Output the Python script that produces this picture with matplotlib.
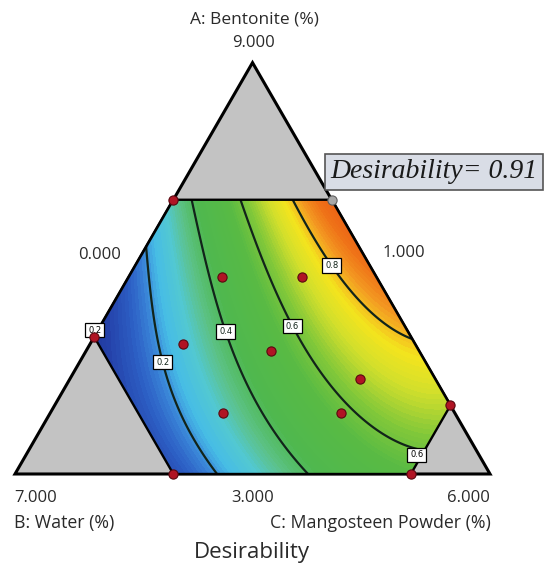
import numpy as np
import matplotlib.pyplot as plt
from matplotlib.colors import LinearSegmentedColormap
from matplotlib.patches import Polygon

# Component ranges (actual %), mixture total = 10
A_low, B_low, C_low = 3.0, 1.0, 0.0
span = 6.0

# Constrained region corners (A, B, C)
region_A = [7, 7, 4, 3, 3, 5]
region_B = [3, 1, 1, 2, 5, 5]
region_C = [0, 2, 5, 5, 2, 0]

# Design points (red dots)
pts_A = [7.0, 5.0, 3.0, 3.0, 4.0, 5.88, 5.88, 4.89, 4.79, 4.39, 3.89, 3.89]
pts_B = [3.0, 5.0, 5.0, 2.0, 1.0, 2.94, 1.94, 3.93, 2.87, 1.95, 3.93, 2.44]
pts_C = [0.0, 0.0, 2.0, 5.0, 5.0, 1.18, 2.18, 1.18, 2.34, 3.66, 2.18, 3.67]

# Optimum flag
opt_A, opt_B, opt_C = 7.0, 1.0, 2.0
opt_text = "Desirability= 0.91"

# Desirability model in pseudo components (cubic mixture, estimated from the contours)
# terms: a, b, c, ab, ac, bc, abc, ab(a-b), ac(a-c), bc(b-c)
coef = [0.9264, 0.0195, 0.5226, -1.2711, 0.6374, 0.0318, 1.3666, -0.2268, -0.0566, -1.1332]

levels = [0.2, 0.4, 0.6, 0.8]


def pseudo(A, B):
    a = (np.asarray(A, float) - A_low) / span
    b = (np.asarray(B, float) - B_low) / span
    return a, b, 1 - a - b


def to_xy(A, B):
    a, b, c = pseudo(A, B)
    return c + a / 2, a * np.sqrt(3) / 2


def terms(a, b, c):
    return np.stack([a, b, c, a * b, a * c, b * c, a * b * c,
                     a * b * (a - b), a * c * (a - c), b * c * (b - c)], axis=-1)


fig = plt.figure(figsize=(5.55, 5.66), dpi=100)
ax = fig.add_axes([0, 0, 1, 1])
ax.set_xlim(-0.0316, 1.1368)
ax.set_ylim(-0.1937, 0.9979)
ax.axis("off")

# full simplex in gray
tri = Polygon([[0, 0], [1, 0], [0.5, np.sqrt(3) / 2]], closed=True,
              facecolor="#c3c3c3", edgecolor="black", lw=2.2, zorder=1)
ax.add_patch(tri)

# surface
gx, gy = np.meshgrid(np.linspace(0, 1, 400), np.linspace(0, 0.87, 400))
ga = gy / (np.sqrt(3) / 2)
gc = gx - ga / 2
gb = 1 - ga - gc
D = terms(ga, gb, gc) @ np.array(coef)

cmap = LinearSegmentedColormap.from_list("desir", [
    (0.00, "#1a2c8c"), (0.08, "#2440a8"), (0.14, "#2c5ec4"), (0.19, "#3a86d8"),
    (0.23, "#46bce6"), (0.29, "#52c8d2"), (0.35, "#5cc288"), (0.42, "#4fb84f"),
    (0.55, "#58ba44"), (0.63, "#80c73a"), (0.71, "#d2df2c"), (0.77, "#f3e41e"),
    (0.80, "#f4c020"), (0.83, "#f39a22"), (0.88, "#ef7418"), (1.00, "#e84a10")])

rx, ry = to_xy(region_A, region_B)
region = Polygon(np.column_stack([rx, ry]), closed=True, facecolor="none",
                 edgecolor="black", lw=1.7, zorder=4)
ax.add_patch(region)

cf = ax.contourf(gx, gy, D, levels=np.linspace(-0.2, 1.1, 140), cmap=cmap,
                 vmin=0, vmax=1, zorder=2)
cf.set_clip_path(region)
cs = ax.contour(gx, gy, D, levels=levels, colors="#12241a", linewidths=1.6, zorder=3)
cs.set_clip_path(region)

lab_xy = [(0.312, 0.236), (0.436, 0.297), (0.589, 0.314), (0.663, 0.436)]
lbls = ax.clabel(cs, levels, inline=False, fontsize=6, manual=lab_xy, fmt="%.1f")
box = dict(boxstyle="square,pad=0.35", fc="white", ec="black", lw=0.9)
for t in lbls:
    t.set_rotation(0)
    t.set_bbox(box)
    t.set_zorder(6)
for (ex, ey), s in [((0.168, 0.303), "0.2"), ((0.846, 0.040), "0.6")]:
    ax.text(ex, ey, s, fontsize=6, ha="center", va="center", zorder=6, bbox=box)

px, py = to_xy(pts_A, pts_B)
ax.scatter(px, py, s=44, color="#b01424", edgecolor="#5a0810", lw=0.8, zorder=7)
ox, oy = to_xy(opt_A, opt_B)
ax.scatter([ox], [oy], s=44, color="#a8a8a8", edgecolor="#606060", lw=0.8, zorder=7)
ax.text(0.664, 0.636, opt_text, fontsize=20, family="Liberation Serif",
        style="italic", ha="left", va="center", zorder=8, color="#1a1a1a",
        bbox=dict(boxstyle="square,pad=0.2", fc="#d9dde6", ec="#555555", lw=1.2))

font = "Open Sans"
col = "#2a2a2a"
ax.text(0.503, 0.956, "A: Bentonite (%)", fontsize=12.5, family=font, ha="center", va="center", color=col)
ax.text(0.503, 0.907, "9.000", fontsize=12, family=font, ha="center", va="center", color=col)
ax.text(0.179, 0.461, "0.000", fontsize=12, family=font, ha="center", va="center", color=col)
ax.text(0.819, 0.465, "1.000", fontsize=12, family=font, ha="center", va="center", color=col)
ax.text(-0.002, -0.0505, "7.000", fontsize=12, family=font, ha="left", va="center", color=col)
ax.text(0.501, -0.0505, "3.000", fontsize=12, family=font, ha="center", va="center", color=col)
ax.text(1.0, -0.0505, "6.000", fontsize=12, family=font, ha="right", va="center", color=col)
ax.text(-0.002, -0.103, "B: Water (%)", fontsize=12.8, family=font, ha="left", va="center", color=col)
ax.text(1.002, -0.103, "C: Mangosteen Powder (%)", fontsize=12.8, family=font, ha="right", va="center", color=col)
ax.text(0.499, -0.166, "Desirability", fontsize=16, family=font, ha="center", va="center", color=col)

fig.savefig("out.png", dpi=100)
